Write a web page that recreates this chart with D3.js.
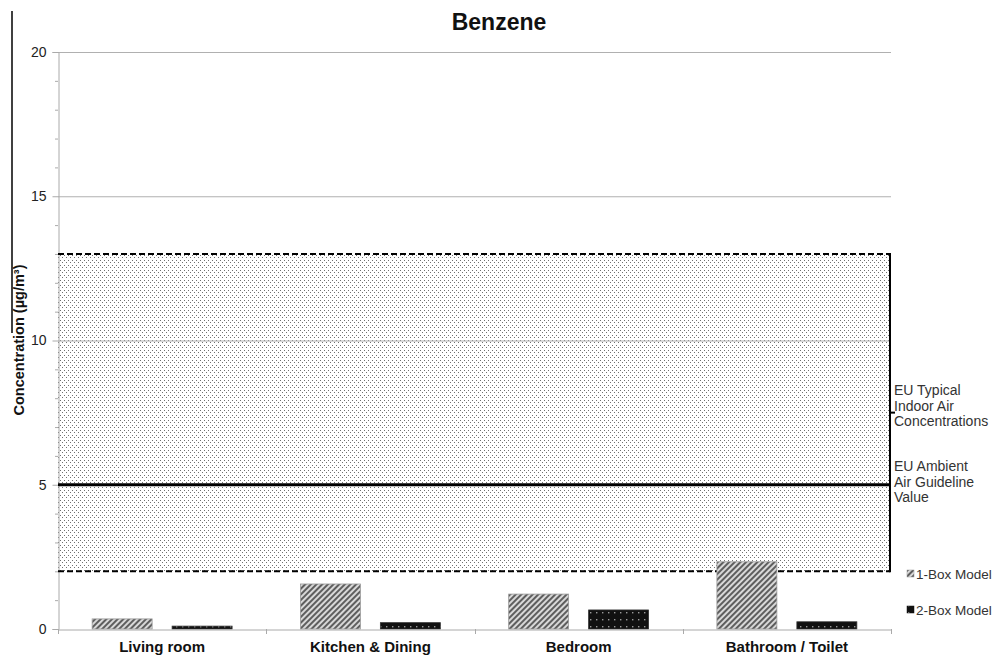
<!DOCTYPE html>
<html><head><meta charset="utf-8">
<script src="https://cdn.jsdelivr.net/npm/d3@7"></script>
<style>body{margin:0;background:#fff}svg{display:block}text{font-family:"Liberation Sans",Arial,sans-serif}</style>
</head><body>
<svg id="c" width="994" height="656"></svg>
<script>
const categories = ["Living room","Kitchen & Dining","Bedroom","Bathroom / Toilet"];
const seriesNames = ["1-Box Model","2-Box Model"];
const oneBox = [0.35, 1.56, 1.21, 2.33];
const twoBox = [0.10, 0.22, 0.66, 0.25];
const yTicks = [0,5,10,15,20];
const typicalRange = [2, 13];
const guideline = 5;
const title = "Benzene";
const yLabel = "Concentration (µg/m³)";
const typicalLabel = ["EU Typical","Indoor Air","Concentrations"];
const guideLabel = ["EU Ambient","Air Guideline","Value"];

const svg = d3.select("#c");
const L=58, R=891, T=52, B=629;
const x = d3.scaleBand().domain(categories).range([L,R]).paddingInner(0).paddingOuter(0);
const y = d3.scaleLinear().domain([0,20]).range([B,T]);
const bw = x.bandwidth();
const barW = bw*0.288, gapIn = bw*0.096, off = (bw - 2*barW - gapIn)/2;

const defs = svg.append("defs");
// dotted pattern
const pd = defs.append("pattern").attr("id","dots").attr("patternUnits","userSpaceOnUse").attr("width",4).attr("height",5);
pd.append("rect").attr("width",4).attr("height",5).attr("fill","#fff");
pd.append("rect").attr("x",0).attr("y",0).attr("width",1).attr("height",1).attr("fill","#707070");
pd.append("rect").attr("x",2).attr("y",2).attr("width",1).attr("height",1).attr("fill","#707070");
// hatch
const ph = defs.append("pattern").attr("id","hatch").attr("patternUnits","userSpaceOnUse").attr("width",4).attr("height",4).attr("patternTransform","rotate(45)");
ph.append("rect").attr("width",4).attr("height",4).attr("fill","#d8d8d8");
ph.append("rect").attr("width",2).attr("height",4).attr("fill","#5e5e5e");
// black dots
const pb = defs.append("pattern").attr("id","bdots").attr("patternUnits","userSpaceOnUse").attr("width",6).attr("height",7).attr("x",0).attr("y",1);
pb.append("rect").attr("width",6).attr("height",7).attr("fill","#111");
pb.append("rect").attr("x",2).attr("y",2).attr("width",1.4).attr("height",1.4).attr("fill","#999");

// shaded region
svg.append("rect").attr("x",L).attr("y",y(typicalRange[1])).attr("width",R-1-L).attr("height",y(typicalRange[0])-y(typicalRange[1])).attr("fill","url(#dots)");

// gridlines
svg.append("g").selectAll("line").data(yTicks.filter(d=>d>0)).join("line")
  .attr("x1",L).attr("x2",R).attr("y1",d=>y(d)+0.5).attr("y2",d=>y(d)+0.5).attr("stroke","#b0b0b0").attr("stroke-width",1);

// y axis
const ya = svg.append("g").attr("transform",`translate(${L+0.5},0)`)
  .call(d3.axisLeft(y).tickValues(yTicks).tickSize(6).tickPadding(6));
ya.select(".domain").attr("stroke","#aaa");
ya.selectAll(".tick line").attr("stroke","#aaa");
ya.selectAll(".tick text").attr("font-size",14).attr("fill","#222").style("font-family","Liberation Sans, Arial");
svg.append("g").selectAll("line").data(d3.range(0,21).filter(d=>d%5)).join("line")
  .attr("x1",L-3).attr("x2",L).attr("y1",d=>y(d)+0.5).attr("y2",d=>y(d)+0.5).attr("stroke","#aaa");

// range lines
const yt = y(typicalRange[1]), yb = y(typicalRange[0]);
svg.append("line").attr("x1",L).attr("x2",R-1).attr("y1",yt).attr("y2",yt).attr("stroke","#000").attr("stroke-width",2).attr("stroke-dasharray","6,3");
svg.append("line").attr("x1",L).attr("x2",R-1).attr("y1",yb).attr("y2",yb).attr("stroke","#000").attr("stroke-width",2).attr("stroke-dasharray","6,3");
svg.append("line").attr("x1",R-1).attr("x2",R-1).attr("y1",yt-1).attr("y2",yb+1).attr("stroke","#000").attr("stroke-width",2);
svg.append("line").attr("x1",R-1).attr("x2",R+4).attr("y1",y((typicalRange[0]+typicalRange[1])/2)).attr("y2",y((typicalRange[0]+typicalRange[1])/2)).attr("stroke","#000").attr("stroke-width",2);
// guideline
svg.append("line").attr("x1",L).attr("x2",R-1).attr("y1",y(guideline)).attr("y2",y(guideline)).attr("stroke","#000").attr("stroke-width",3);

// bars
const g = svg.append("g");
g.selectAll(".b1").data(categories).join("rect").attr("class","b1")
  .attr("x",d=>x(d)+off).attr("width",barW)
  .attr("y",(d,i)=>y(oneBox[i])).attr("height",(d,i)=>B-y(oneBox[i]))
  .attr("fill","url(#hatch)").attr("stroke","#999").attr("stroke-width",0.8);
g.selectAll(".b2").data(categories).join("rect").attr("class","b2")
  .attr("x",d=>x(d)+off+barW+gapIn).attr("width",barW)
  .attr("y",(d,i)=>y(twoBox[i])).attr("height",(d,i)=>B-y(twoBox[i]))
  .attr("fill","url(#bdots)").attr("stroke","#333").attr("stroke-width",0.8);

// x axis
const xa = svg.append("g").attr("transform",`translate(0,${B+0.5})`)
  .call(d3.axisBottom(x).tickSize(0).tickPadding(12));
xa.select(".domain").attr("stroke","#aaa");
xa.selectAll(".tick text").attr("font-size",15).attr("font-weight","bold").attr("fill","#111").style("font-family","Liberation Sans, Arial");
svg.append("g").selectAll("line").data(categories.map(c=>x(c)).concat([R])).join("line")
  .attr("x1",d=>Math.round(d)+0.5).attr("x2",d=>Math.round(d)+0.5).attr("y1",B).attr("y2",B+5).attr("stroke","#aaa");

// title
svg.append("text").attr("x",499).attr("y",30).attr("text-anchor","middle").attr("font-size",23).attr("font-weight","bold").attr("fill","#111").text(title);

// y label
svg.append("text").attr("transform",`translate(24,340) rotate(-90)`).attr("text-anchor","middle").attr("font-size",14.5).attr("font-weight","bold").attr("fill","#111").text(yLabel);
svg.append("line").attr("x1",12).attr("x2",12).attr("y1",11).attr("y2",333).attr("stroke","#000").attr("stroke-width",1.5);

// right labels
const rl = svg.append("g").attr("font-size",14).attr("fill","#333");
rl.selectAll(".t1").data(typicalLabel).join("text").attr("x",894).attr("y",(d,i)=>395+i*15.5).text(d=>d);
rl.selectAll(".t2").data(guideLabel).join("text").attr("x",894).attr("y",(d,i)=>471+i*15.5).text(d=>d);

// legend
const lg = svg.append("g");
const fills = ["url(#hatch)","url(#bdots)"];
const ly = [574, 610];
seriesNames.forEach((s,i)=>{
  lg.append("rect").attr("x",907).attr("y",ly[i]-4).attr("width",7).attr("height",7).attr("fill",fills[i]).attr("stroke",i?"#111":"#999").attr("stroke-width",0.5);
  lg.append("text").attr("x",916).attr("y",ly[i]+5).attr("font-size",13.5).attr("fill","#333").text(s);
});
</script>
</body></html>
